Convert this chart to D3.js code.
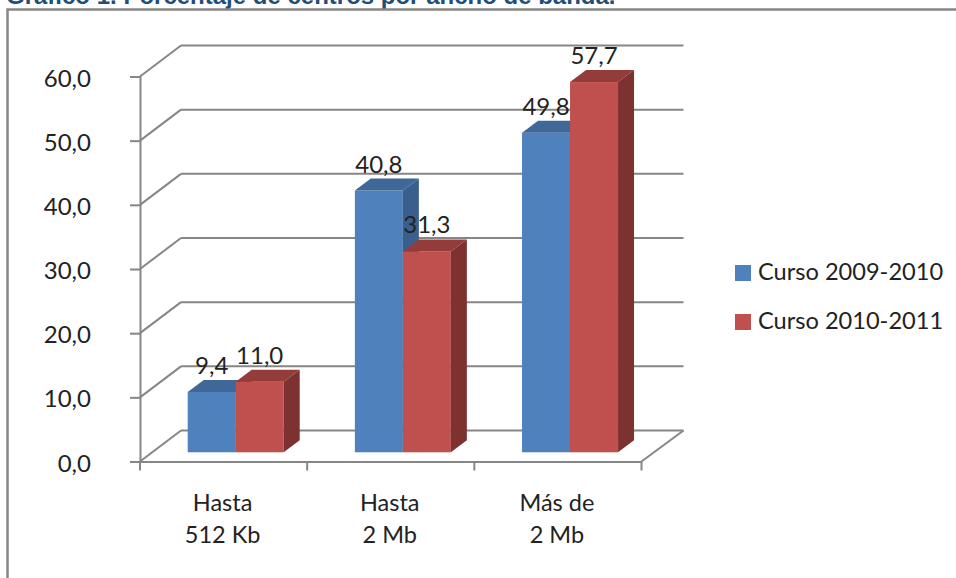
<html>
<head>
    <meta charset="utf-8">
    <script src="https://d3js.org/d3.v7.min.js"></script>
</head>
<style>
    body { margin: 0; background: #fff; overflow: hidden; }
    svg { display: block; }
    text { font-family: Lato, "Open Sans", sans-serif; fill: #222; }
    .axis line, .axis path { stroke: #868686; stroke-width: 2; fill: none; }
    .grid line { stroke: #868686; stroke-width: 2; }
</style>
<body>
    <svg id="chart" width="956" height="578"></svg>
</body>
<script>
    const categories = [["Hasta", "512 Kb"], ["Hasta", "2 Mb"], ["Más de", "2 Mb"]];
    const series_names = ["Curso 2009-2010", "Curso 2010-2011"];
    const curso_2009 = [9.4, 40.8, 49.8];
    const curso_2010 = [11.0, 31.3, 57.7];
    const y_ticks = [0, 10, 20, 30, 40, 50, 60];
    const title = "Gráfico 1. Porcentaje de centros por ancho de banda.";

    const colors = [
        { front: "#4f81bd", side: "#3a5f8c", top: "#3f6797" },
        { front: "#c0504d", side: "#7d3230", top: "#943c3a" }
    ];
    const series_values = [curso_2009, curso_2010];

    let plt = d3.select("svg#chart");

    // page title, cut by the top of the picture, and chart frame
    plt.append("text")
        .attr("x", 6).attr("y", 4)
        .style("font-family", "'Liberation Sans'")
        .style("font-weight", "bold")
        .style("font-size", "24px")
        .style("fill", "#1f4e79")
        .text(title);

    plt.append("rect")
        .attr("x", 7.5).attr("y", 9.5)
        .attr("width", 1000).attr("height", 1000)
        .attr("fill", "#fff")
        .attr("stroke", "#868686").attr("stroke-width", 2.5);

    // 3d offset of the back wall and of the bars
    const wall_dx = 41, wall_dy = 31;
    const bar_dx = 16, bar_dy = 12;
    const bar_lift = 9.2;

    let y_scale = d3.scaleLinear().domain([0, 60]).range([461.5, 76.5]);
    let x_scale = d3.scaleBand().domain(d3.range(categories.length)).range([140, 641.5]);
    let series_scale = d3.scaleBand().domain(d3.range(series_values.length)).range([47.7, 143.7]);

    // back wall lines and the slanted lines on the left side
    let grid = plt.append("g").attr("class", "grid");
    grid.selectAll("line.back")
        .data(y_ticks)
        .join("line")
        .attr("class", "back")
        .attr("x1", x_scale.range()[0] + wall_dx)
        .attr("x2", x_scale.range()[1] + wall_dx + 1)
        .attr("y1", d => y_scale(d) - wall_dy)
        .attr("y2", d => y_scale(d) - wall_dy);
    grid.selectAll("line.slant")
        .data(y_ticks)
        .join("line")
        .attr("class", "slant")
        .attr("x1", x_scale.range()[0])
        .attr("x2", x_scale.range()[0] + wall_dx)
        .attr("y1", d => y_scale(d))
        .attr("y2", d => y_scale(d) - wall_dy);
    grid.append("line")
        .attr("x1", x_scale.range()[1])
        .attr("x2", x_scale.range()[1] + wall_dx + 1)
        .attr("y1", y_scale(0))
        .attr("y2", y_scale(0) - wall_dy);

    const yAxis = d3.axisLeft(y_scale)
        .tickValues(y_ticks)
        .tickSize(10)
        .tickPadding(39)
        .tickFormat(d => d3.format(".1f")(d).replace(".", ","));

    let y_axis = plt.append("g").attr("class", "axis").attr("transform", "translate(140,0)").call(yAxis);
    y_axis.selectAll("text")
        .style("font-size", "24px")
        .attr("font-family", null)
        .attr("dy", "0.4em");

    const xAxis = d3.axisBottom(x_scale).tickSize(0).tickFormat("");
    let x_axis = plt.append("g").attr("class", "axis").attr("transform", `translate(0,${y_scale(0)})`).call(xAxis);
    x_axis.selectAll(".tick").remove();
    x_axis.selectAll("line.cat_tick")
        .data([...x_scale.domain().map(d => x_scale(d)), x_scale.range()[1]])
        .join("line")
        .attr("class", "cat_tick")
        .attr("x1", d => d).attr("x2", d => d)
        .attr("y1", 0).attr("y2", 9);

    // category labels, two lines each
    let cat_labels = plt.append("g").selectAll("text")
        .data(categories)
        .join("text")
        .attr("text-anchor", "middle")
        .style("font-size", "23.5px");
    cat_labels.selectAll("tspan")
        .data((d, i) => d.map((line, j) => ({ line, j, i })))
        .join("tspan")
        .attr("x", d => x_scale(d.i) + x_scale.bandwidth() / 2 - 1)
        .attr("y", d => 511 + d.j * 32)
        .text(d => d.line);

    // bars: front, top and side faces per series, blue first so red covers its side
    let bars = plt.append("g");
    categories.forEach((c, i) => {
        series_values.forEach((vals, s) => {
            let x0 = x_scale(i) + series_scale(s);
            let x1 = x0 + series_scale.bandwidth();
            let y0 = y_scale(0) - bar_lift;
            let y1 = y_scale(vals[i]) - bar_lift;
            let g = bars.append("g");
            g.append("rect")
                .attr("x", x0).attr("y", y1)
                .attr("width", x1 - x0).attr("height", y0 - y1)
                .attr("fill", colors[s].front);
            g.append("path")
                .attr("d", `M${x0},${y1}L${x0 + bar_dx},${y1 - bar_dy}L${x1 + bar_dx},${y1 - bar_dy}L${x1},${y1}Z`)
                .attr("fill", colors[s].top);
            g.append("path")
                .attr("d", `M${x1},${y1}L${x1 + bar_dx},${y1 - bar_dy}L${x1 + bar_dx},${y0 - bar_dy}L${x1},${y0}Z`)
                .attr("fill", colors[s].side);
        });
    });

    // value labels on top of everything
    categories.forEach((c, i) => {
        series_values.forEach((vals, s) => {
            plt.append("text")
                .attr("x", x_scale(i) + series_scale(s) + series_scale.bandwidth() / 2)
                .attr("y", y_scale(vals[i]) - bar_lift - 18)
                .attr("text-anchor", "middle")
                .style("font-size", "24px")
                .text(d3.format(".1f")(vals[i]).replace(".", ","));
        });
    });

    // legend
    let legend = plt.append("g").selectAll("g")
        .data(series_names)
        .join("g")
        .attr("transform", (d, i) => `translate(735,${265 + i * 49})`);
    legend.append("rect")
        .attr("width", 16).attr("height", 16)
        .attr("fill", (d, i) => colors[i].front);
    legend.append("text")
        .attr("x", 23).attr("y", 15)
        .style("font-size", "23.6px")
        .text(d => d);
</script>
</html>
